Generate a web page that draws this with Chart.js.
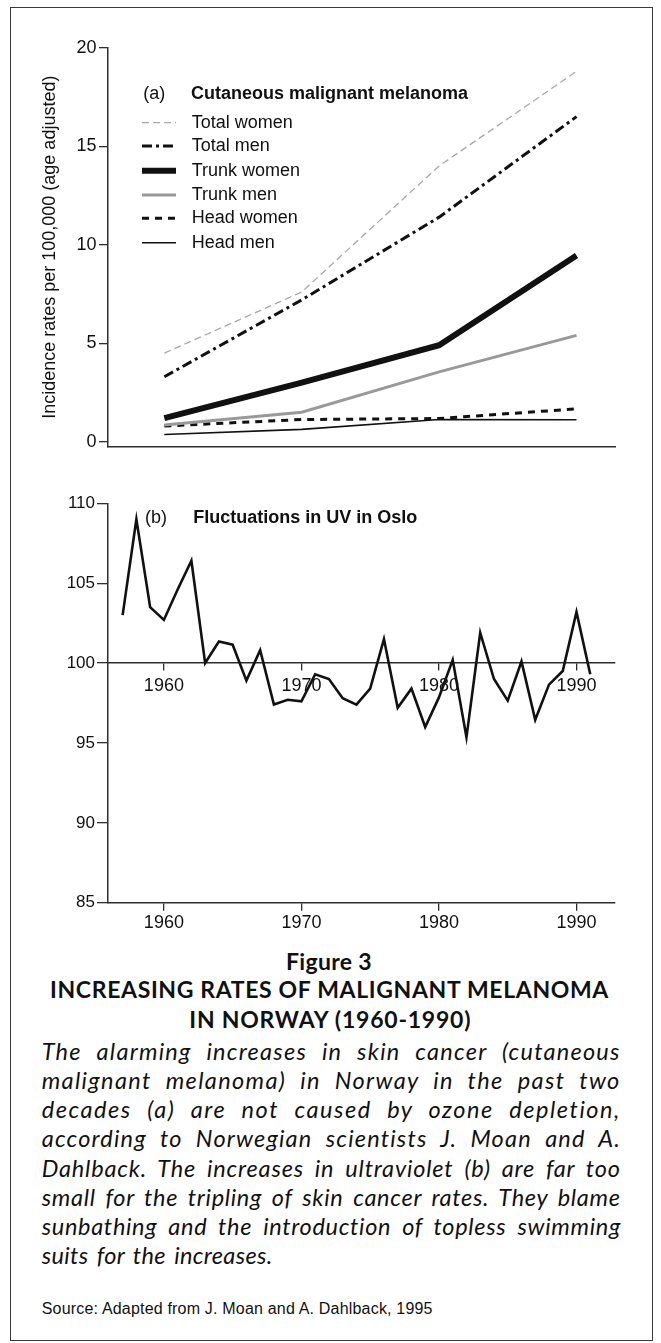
<!DOCTYPE html>
<html>
<head>
<meta charset="utf-8">
<script src="https://cdn.jsdelivr.net/npm/chart.js@4/dist/chart.umd.min.js"></script>
<style>
html,body{margin:0;padding:0;background:#fff;}
body{width:661px;height:1343px;position:relative;overflow:hidden;font-family:"Liberation Sans",Arial,sans-serif;color:#111;}
#frame{position:absolute;left:10px;top:7px;width:643px;height:1334px;border:1.5px solid #3a3a3a;box-sizing:border-box;}
.wrap{position:absolute;left:0;width:661px;}
#wa{top:0;height:460px;}
#wb{top:460px;height:480px;}
.cap{position:absolute;white-space:nowrap;line-height:1.2;color:#111;}
.ttl{font-family:Lato,"Open Sans",sans-serif;font-weight:700;font-size:23px;}
.para{font-family:Lato,"Open Sans",sans-serif;font-style:italic;font-size:23.5px;}
.src{font-family:"Liberation Sans",Arial,sans-serif;font-size:16px;}
</style>
</head>
<body>
<div id="frame"></div>
<div class="wrap" id="wa"><canvas id="ca"></canvas></div>
<div class="wrap" id="wb"><canvas id="cb"></canvas></div>

<div class="cap ttl" data-cx="329" data-w="86" data-cy="961.5">Figure 3</div>
<div class="cap ttl" data-x="50" data-w="559" data-cy="990">INCREASING RATES OF MALIGNANT MELANOMA</div>
<div class="cap ttl" data-x="189.3" data-w="282" data-cy="1020">IN NORWAY (1960-1990)</div>
<div class="cap para" data-x="41.7" data-w="579" data-cy="1051">The alarming increases in skin cancer (cutaneous</div>
<div class="cap para" data-x="41.7" data-w="579" data-cy="1080">malignant melanoma) in Norway in the past two</div>
<div class="cap para" data-x="41.7" data-w="579" data-cy="1109.3">decades (a) are not caused by ozone depletion,</div>
<div class="cap para" data-x="41.7" data-w="579" data-cy="1138.3">according to Norwegian scientists J. Moan and A.</div>
<div class="cap para" data-x="41.7" data-w="579" data-cy="1167.7">Dahlback. The increases in ultraviolet (b) are far too</div>
<div class="cap para" data-x="41.7" data-w="579" data-cy="1196.7">small for the tripling of skin cancer rates. They blame</div>
<div class="cap para" data-x="41.7" data-w="579" data-cy="1226">sunbathing and the introduction of topless swimming</div>
<div class="cap para" data-x="41.7" data-w="231" data-cy="1255">suits for the increases.</div>
<div class="cap src" data-x="41.7" data-w="391" data-cy="1309">Source: Adapted from J. Moan and A. Dahlback, 1995</div>

<script>
// ---------- Data: panel (a) ----------
const decades = [1960, 1970, 1980, 1990];
const seriesNames = ['Total women', 'Total men', 'Trunk women', 'Trunk men', 'Head women', 'Head men'];
const totalWomen = [4.5, 7.6, 14.0, 18.8];
const totalMen = [3.3, 7.2, 11.4, 16.5];
const trunkWomen = [1.2, 3.0, 4.9, 9.45];
const trunkMen = [0.85, 1.5, 3.55, 5.4];
const headWomen = [0.8, 1.13, 1.18, 1.67];
const headMen = [0.37, 0.63, 1.13, 1.12];
const incidenceTicks = [0, 5, 10, 15, 20];
const incidenceTitle = 'Incidence rates per 100,000 (age adjusted)';

// ---------- Data: panel (b) ----------
const uvYears = [1957, 1958, 1959, 1960, 1961, 1962, 1963, 1964, 1965, 1966, 1967, 1968, 1969, 1970,
  1971, 1972, 1973, 1974, 1975, 1976, 1977, 1978, 1979, 1980, 1981, 1982, 1983, 1984, 1985, 1986,
  1987, 1988, 1989, 1990, 1991];
const uvValues = [103.0, 109.0, 103.5, 102.7, 104.6, 106.4, 100.0, 101.35, 101.15, 98.9, 100.8, 97.4, 97.7, 97.6,
  99.3, 99.0, 97.8, 97.4, 98.4, 101.5, 97.2, 98.4, 96.0, 97.85, 100.2, 95.35, 101.9, 99.0, 97.65, 100.1,
  96.45, 98.65, 99.5, 103.2, 99.3];
const uvTicks = [85, 90, 95, 100, 105, 110];
const yearTicks = [1960, 1970, 1980, 1990];

// ---------- shared style ----------
const FONT = '"Liberation Sans", Arial, sans-serif';
const INK = '#111';
const AXIS = '#2e2e2e';
const X_MIN = 1955.9, X_MAX = 1992.8;

const legendPlugin = {
  id: 'panelLegend',
  afterDraw(chart, args, o) {
    const ctx = chart.ctx;
    ctx.save();
    ctx.fillStyle = INK;
    ctx.textBaseline = 'middle';
    ctx.textAlign = 'left';
    ctx.font = '18px ' + FONT;
    ctx.fillText(o.tag, o.tagX, o.titleY);
    ctx.font = 'bold 18px ' + FONT;
    ctx.fillText(o.title, o.titleX, o.titleY);
    if (o.rows) {
      chart.data.datasets.forEach((ds, i) => {
        const y = o.rows[i];
        ctx.beginPath();
        ctx.setLineDash(ds.borderDash || []);
        ctx.lineWidth = ds.borderWidth;
        ctx.strokeStyle = ds.borderColor;
        ctx.moveTo(o.x0, y);
        ctx.lineTo(o.x1, y);
        ctx.stroke();
        ctx.setLineDash([]);
        ctx.font = '18px ' + FONT;
        ctx.fillStyle = INK;
        ctx.fillText(ds.label, o.textX, y);
      });
    }
    ctx.restore();
  }
};

const toXY = (xs, ys) => xs.map((x, i) => ({x: x, y: ys[i]}));
const fixedTicks = arr => (scale => { scale.ticks = arr.map(v => ({value: v})); });

// ---------- Chart (a) ----------
const aStyles = [
  {borderColor: '#a8a8a8', borderWidth: 1.3, borderDash: [7, 4]},
  {borderColor: '#111', borderWidth: 3, borderDash: [10, 4, 3, 4]},
  {borderColor: '#111', borderWidth: 6, borderDash: []},
  {borderColor: '#999', borderWidth: 3, borderDash: []},
  {borderColor: '#111', borderWidth: 3, borderDash: [7, 6]},
  {borderColor: '#111', borderWidth: 1.6, borderDash: []}
];
const aSeries = [totalWomen, totalMen, trunkWomen, trunkMen, headWomen, headMen];

new Chart(document.getElementById('ca'), {
  type: 'line',
  data: {
    datasets: aSeries.map((s, i) => Object.assign({
      label: seriesNames[i],
      data: toXY(decades, s),
      pointRadius: 0,
      tension: 0,
      fill: false
    }, aStyles[i]))
  },
  options: {
    responsive: true,
    maintainAspectRatio: false,
    animation: false,
    events: [],
    layout: {padding: {top: 47.7, right: 46, left: 0, bottom: 0}},
    plugins: {
      legend: {display: false},
      tooltip: {enabled: false},
      panelLegend: {
        tag: '(a)', tagX: 143.3, title: 'Cutaneous malignant melanoma', titleX: 191, titleY: 94,
        rows: [122.7, 146, 170.7, 195, 218.3, 242.7], x0: 142, x1: 176, textX: 191.7
      }
    },
    scales: {
      x: {
        type: 'linear', min: X_MIN, max: X_MAX,
        ticks: {display: false},
        grid: {display: false},
        border: {display: true, color: AXIS, width: 1.5},
        afterFit: s => { s.height = 13; }
      },
      y: {
        type: 'linear', min: -0.25, max: 20,
        afterBuildTicks: fixedTicks(incidenceTicks),
        ticks: {color: INK, font: {family: FONT, size: 18}, padding: 2.5, callback: v => String(v)},
        grid: {display: true, drawOnChartArea: false, drawTicks: true, tickLength: 9, color: AXIS, lineWidth: 1.3},
        border: {display: true, color: AXIS, width: 1.5},
        title: {display: true, text: incidenceTitle, color: INK, font: {family: FONT, size: 18}, padding: {top: 39, bottom: 0}},
        afterFit: s => { s.width = 108; }
      }
    }
  },
  plugins: [legendPlugin]
});

// ---------- Chart (b) ----------
const xTickCommon = {
  color: INK, font: {family: FONT, size: 18}, maxRotation: 0, autoSkip: false, callback: v => String(v)
};
new Chart(document.getElementById('cb'), {
  type: 'line',
  data: {
    datasets: [{
      label: 'UV',
      data: toXY(uvYears, uvValues),
      borderColor: '#111',
      borderWidth: 2.6,
      pointRadius: 0,
      tension: 0,
      fill: false
    }]
  },
  options: {
    responsive: true,
    maintainAspectRatio: false,
    animation: false,
    events: [],
    layout: {padding: {top: 43.3, right: 46, left: 0, bottom: 0}},
    plugins: {
      legend: {display: false},
      tooltip: {enabled: false},
      panelLegend: {tag: '(b)', tagX: 145, title: 'Fluctuations in UV in Oslo', titleX: 193.3, titleY: 58.3}
    },
    scales: {
      x: {
        type: 'linear', min: X_MIN, max: X_MAX,
        afterBuildTicks: fixedTicks(yearTicks),
        ticks: Object.assign({padding: 2}, xTickCommon),
        grid: {display: true, drawOnChartArea: false, tickLength: 8, color: AXIS, lineWidth: 1.3},
        border: {display: true, color: AXIS, width: 1.5},
        afterFit: s => { s.height = 37.3; }
      },
      x2: {
        type: 'linear', axis: 'x', position: {y: 100}, min: X_MIN, max: X_MAX,
        afterBuildTicks: fixedTicks(yearTicks),
        ticks: Object.assign({padding: 5}, xTickCommon),
        grid: {display: true, drawOnChartArea: false, tickLength: 7, color: AXIS, lineWidth: 1.3},
        border: {display: true, color: AXIS, width: 1.5}
      },
      y: {
        type: 'linear', min: 85, max: 110,
        afterBuildTicks: fixedTicks(uvTicks),
        ticks: {color: INK, font: {family: FONT, size: 17}, padding: 2, callback: v => String(v)},
        grid: {display: true, drawOnChartArea: false, tickLength: 10.5, color: AXIS, lineWidth: 1.3},
        border: {display: true, color: AXIS, width: 1.5},
        afterFit: s => { s.width = 107.5; }
      }
    }
  },
  plugins: [legendPlugin]
});

// ---------- caption layout ----------
function fitCaptions() {
  document.querySelectorAll('.cap').forEach(el => {
    const target = parseFloat(el.dataset.w);
    el.style.letterSpacing = '0px';
    el.style.wordSpacing = '0px';
    el.style.left = '0px';
    const w0 = el.getBoundingClientRect().width;
    const text = el.textContent;
    const n = text.length;
    const spaces = (text.match(/ /g) || []).length;
    const extra = target - w0;
    if (el.classList.contains('para') && spaces > 0 && extra > 0) {
      // share the justification between word gaps and letter gaps
      const ls = (extra * 0.55) / n;
      const ws = (extra * 0.45) / spaces;
      el.style.letterSpacing = ls + 'px';
      el.style.wordSpacing = ws + 'px';
    } else {
      el.style.letterSpacing = (extra / n) + 'px';
    }
    const h = el.getBoundingClientRect().height;
    el.style.top = (parseFloat(el.dataset.cy) - h / 2) + 'px';
    el.style.left = (el.dataset.cx ? parseFloat(el.dataset.cx) - target / 2 : parseFloat(el.dataset.x)) + 'px';
  });
}
fitCaptions();
if (document.fonts && document.fonts.ready) document.fonts.ready.then(fitCaptions);
</script>
</body>
</html>
